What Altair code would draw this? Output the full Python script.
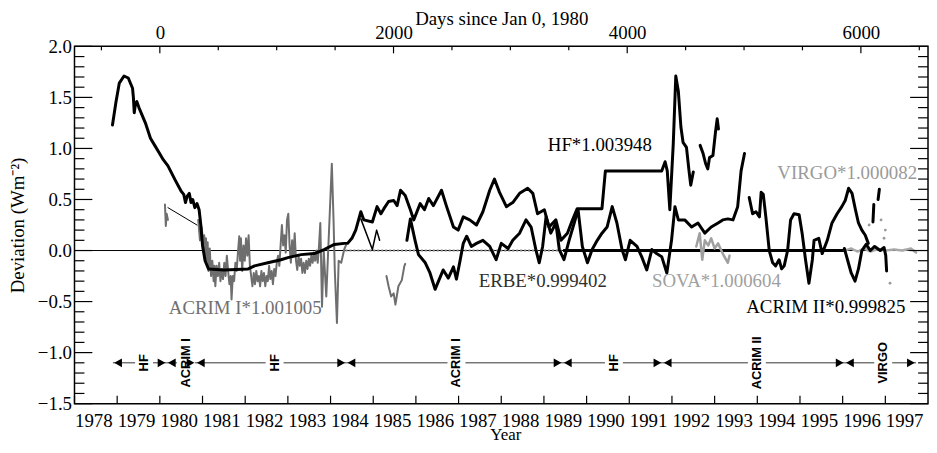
import altair as alt
import pandas as pd

W, H = 860, 360
SERIF = "Liberation Serif"
SANS = "Liberation Sans"

# ---------------- HF*1.003948 (thick black) ----------------
hf_a_year = [1978.89, 1978.97, 1979.05, 1979.16, 1979.26, 1979.36, 1979.38, 1979.40, 1979.43, 1979.46,
             1979.51, 1979.67, 1979.78, 1979.88, 1979.98, 1980.08, 1980.19, 1980.36, 1980.50, 1980.56,
             1980.60, 1980.64, 1980.69, 1980.73, 1980.77, 1980.82, 1980.87, 1980.92, 1980.96, 1981.00,
             1981.06, 1981.14, 1981.50, 1982.07, 1982.22, 1982.53, 1982.84, 1983.00, 1983.31, 1983.62,
             1983.85, 1984.09, 1984.32, 1984.40, 1984.50, 1984.59, 1984.71, 1984.78, 1984.98, 1985.09,
             1985.18, 1985.25, 1985.36, 1985.48, 1985.56, 1985.64, 1985.75, 1985.87, 1985.95, 1986.10,
             1986.20, 1986.30, 1986.41, 1986.60, 1986.72, 1986.88, 1986.99, 1987.11, 1987.26, 1987.42,
             1987.57, 1987.73, 1987.84, 1987.96, 1988.12, 1988.27, 1988.43, 1988.62, 1988.74, 1988.85,
             1989.01, 1989.12, 1989.28, 1989.40, 1989.55, 1989.67, 1989.78, 1990.36, 1990.44, 1991.76,
             1991.84, 1991.89, 1991.95, 1992.03, 1992.09, 1992.15, 1992.21, 1992.26, 1992.34, 1992.40,
             1992.44, 1992.50]
hf_a_dev = [1.23, 1.45, 1.64, 1.71, 1.69, 1.59, 1.50, 1.35, 1.44, 1.46,
            1.40, 1.24, 1.10, 1.03, 0.96, 0.89, 0.83, 0.69, 0.58, 0.55,
            0.47, 0.53, 0.56, 0.47, 0.50, 0.42, 0.46, 0.40, 0.25, 0.05,
            -0.10, -0.18, -0.19, -0.18, -0.15, -0.12, -0.09, -0.07, -0.04, -0.03,
            0.01, 0.06, 0.07, 0.07, 0.12, 0.20, 0.38, 0.30, 0.28, 0.43,
            0.36, 0.41, 0.48, 0.49, 0.44, 0.59, 0.54, 0.40, 0.30, 0.46,
            0.40, 0.51, 0.44, 0.59, 0.43, 0.23, 0.20, 0.33, 0.30, 0.25,
            0.38, 0.59, 0.70, 0.57, 0.43, 0.47, 0.56, 0.61, 0.56, 0.36,
            0.40, 0.23, 0.30, 0.10, 0.17, 0.30, 0.41, 0.41, 0.78, 0.78,
            0.87, 0.78, 0.40, 1.04, 1.71, 1.56, 1.21, 1.06, 1.01, 0.78,
            0.64, 0.77]
hf_b_year = [1992.66, 1992.73, 1992.79, 1992.84, 1992.88, 1992.96, 1993.02, 1993.06, 1993.09]
hf_b_dev = [1.03, 0.95, 0.85, 0.80, 0.91, 0.93, 1.16, 1.29, 1.19]

# ---------------- ERBE*0.999402 (black) ----------------
erbe_a_year = [1984.71, 1984.98, 1985.08, 1985.15]
erbe_a_dev = [0.31, 0.01, 0.20, 0.10]
erbe_b_year = [1985.79, 1985.87, 1985.98, 1986.06, 1986.22, 1986.33, 1986.45, 1986.53, 1986.64, 1986.76,
               1986.88, 1986.95, 1987.03, 1987.11, 1987.19, 1987.30, 1987.42, 1987.57, 1987.73, 1987.88,
               1988.00, 1988.16, 1988.27, 1988.43, 1988.58, 1988.70, 1988.81, 1988.89, 1988.97, 1989.05,
               1989.16, 1989.28, 1989.36, 1989.47, 1989.59, 1989.71, 1989.80, 1989.90, 1990.02, 1990.13,
               1990.25, 1990.36, 1990.48, 1990.60, 1990.71, 1990.83, 1990.91, 1991.02, 1991.18, 1991.29,
               1991.41, 1991.53, 1991.64, 1991.76, 1991.88, 1991.99, 1992.07, 1992.15, 1992.30, 1992.46,
               1992.61, 1992.77, 1992.92, 1993.08, 1993.19, 1993.31, 1993.43, 1993.54, 1993.62, 1993.70]
erbe_b_dev = [0.10, 0.31, 0.10, -0.04, -0.12, -0.22, -0.38, -0.30, -0.19, -0.27,
              -0.16, -0.28, -0.11, 0.07, 0.14, 0.04, 0.07, 0.10, 0.04, -0.09,
              0.07, 0.02, 0.10, 0.17, 0.30, 0.23, 0.01, -0.12, 0.04, 0.33,
              0.17, 0.27, 0.01, -0.09, 0.10, 0.27, 0.40, 0.04, -0.12, 0.01,
              0.10, 0.17, 0.23, 0.43, 0.27, 0.01, -0.09, 0.10, 0.04, -0.06,
              -0.19, 0.01, -0.03, -0.06, -0.22, 0.10, 0.43, 0.30, 0.30, 0.23,
              0.27, 0.17, 0.23, 0.27, 0.30, 0.31, 0.30, 0.43, 0.78, 0.95]
erbe_c_year = [1993.81, 1993.89, 1993.97, 1994.05, 1994.09, 1994.14, 1994.20, 1994.28, 1994.36, 1994.43,
               1994.51, 1994.57, 1994.63, 1994.71, 1994.78, 1994.86, 1994.98, 1995.05, 1995.13, 1995.21,
               1995.29, 1995.33, 1995.44, 1995.52, 1995.64, 1995.75, 1995.87, 1995.98, 1996.06, 1996.14,
               1996.22, 1996.30, 1996.37, 1996.45, 1996.53, 1996.60]
erbe_c_dev = [0.52, 0.36, 0.38, 0.33, 0.57, 0.55, 0.33, 0.00, -0.12, -0.15,
              -0.09, -0.18, -0.15, 0.00, 0.30, 0.36, 0.35, 0.17, -0.09, -0.32,
              -0.09, 0.10, 0.12, -0.03, 0.10, 0.27, 0.36, 0.43, 0.49, 0.61,
              0.56, 0.40, 0.27, 0.20, 0.15, 0.07]
erbe_d_year = [1996.04, 1996.12, 1996.20, 1996.29, 1996.37, 1996.45, 1996.55, 1996.65, 1996.75, 1996.88,
               1996.97, 1997.01, 1997.03]
erbe_d_dev = [0.02, -0.10, -0.22, -0.30, -0.18, 0.00, 0.06, 0.00, 0.04, 0.00,
              0.03, -0.05, -0.20]
erbe_e_year = [1996.71, 1996.73]
erbe_e_dev = [0.28, 0.45]
erbe_f_year = [1996.83, 1996.86]
erbe_f_dev = [0.50, 0.60]

# ---------------- ACRIM I*1.001005 (grey) ----------------
acrim1_a_year = [1980.12, 1980.14, 1980.16, 1980.19]
acrim1_a_dev = [0.45, 0.24, 0.36, 0.30]
acrim1_gap_year = [1980.19, 1980.87]
acrim1_gap_dev = [0.42, 0.25]
acrim1_b_year = [1980.90, 1980.94, 1980.98, 1981.02, 1981.04, 1981.06, 1981.08, 1981.10, 1981.12, 1981.14,
                 1981.17, 1981.20, 1981.23, 1981.26, 1981.28, 1981.30, 1981.33, 1981.36, 1981.39, 1981.42,
                 1981.45, 1981.48, 1981.51, 1981.54, 1981.57, 1981.60, 1981.63, 1981.66, 1981.68, 1981.71,
                 1981.74, 1981.77, 1981.80, 1981.83, 1981.86, 1981.88, 1981.90, 1981.93, 1981.96, 1981.99,
                 1982.02, 1982.05, 1982.08, 1982.11, 1982.14, 1982.17, 1982.20, 1982.23, 1982.26, 1982.29,
                 1982.32, 1982.35, 1982.38, 1982.41, 1982.44, 1982.47, 1982.50, 1982.53, 1982.56, 1982.59,
                 1982.62, 1982.65, 1982.68, 1982.71, 1982.74, 1982.77, 1982.80, 1982.83, 1982.86, 1982.89,
                 1982.92, 1982.95, 1982.98, 1983.01, 1983.04, 1983.07, 1983.10, 1983.13, 1983.16, 1983.19,
                 1983.22, 1983.25, 1983.28, 1983.31, 1983.34, 1983.37, 1983.40, 1983.43, 1983.46, 1983.49,
                 1983.52, 1983.55, 1983.58, 1983.61, 1983.64, 1983.67, 1983.70, 1983.73, 1983.76, 1983.80,
                 1983.84, 1983.90, 1983.95, 1984.03, 1984.07, 1984.10, 1984.15, 1984.19, 1984.25, 1984.32,
                 1984.36]
acrim1_b_dev = [0.30, 0.10, 0.23, 0.05, 0.15, -0.05, 0.12, -0.10, 0.08, -0.20,
                0.02, -0.25, -0.10, -0.30, -0.15, -0.35, -0.15, -0.25, -0.12, -0.30,
                -0.18, -0.28, -0.12, -0.25, -0.05, -0.20, -0.33, -0.25, -0.48, -0.25,
                -0.30, -0.12, -0.20, -0.02, 0.14, -0.10, 0.12, -0.20, 0.05, -0.10,
                0.12, -0.05, 0.15, -0.15, -0.25, -0.35, -0.22, -0.33, -0.20, -0.30,
                -0.25, -0.35, -0.20, -0.30, -0.22, -0.35, -0.25, -0.30, -0.15, -0.28,
                -0.20, -0.33, -0.18, -0.25, -0.12, -0.05, -0.15, 0.05, 0.25, 0.05,
                0.15, -0.02, 0.30, 0.36, 0.05, -0.12, 0.10, -0.05, 0.17, -0.10,
                -0.19, -0.05, -0.15, -0.08, -0.22, -0.12, -0.22, -0.10, -0.18, -0.08,
                -0.15, -0.05, -0.12, -0.02, -0.10, 0.00, -0.12, 0.05, 0.27, -0.55,
                0.00, -0.45, 0.05, 0.85, 0.30, -0.20, -0.71, -0.10, -0.12, 0.01,
                0.05]
acrim1_c_year = [1985.31, 1985.36, 1985.42, 1985.48, 1985.52, 1985.59, 1985.67, 1985.73, 1985.75]
acrim1_c_dev = [-0.25, -0.35, -0.45, -0.42, -0.53, -0.35, -0.29, -0.15, -0.13]

# ---------------- SOVA*1.000604 (light grey) ----------------
sova_year = [1992.57, 1992.65, 1992.71, 1992.77, 1992.85, 1992.92, 1993.00, 1993.08, 1993.19, 1993.31, 1993.35]
sova_dev = [0.04, 0.17, -0.09, 0.10, 0.05, 0.12, 0.02, 0.07, -0.03, -0.12, -0.05]

# ---------------- VIRGO*1.000082 (light grey) ----------------
virgo_year = [1996.05, 1996.20, 1996.35, 1996.50, 1996.65, 1996.80, 1997.00, 1997.20, 1997.40, 1997.60, 1997.72]
virgo_dev = [0.00, 0.02, -0.01, 0.02, -0.01, 0.01, 0.00, 0.01, 0.00, 0.02, -0.02]
virgo_pt_year = [1996.62, 1996.72, 1996.84, 1996.90, 1996.97, 1997.00, 1997.11]
virgo_pt_dev = [0.25, 0.40, 0.53, 0.30, 0.12, 0.20, -0.32]

# ---------------- reference (zero) segments ----------------
ref_dotted = [1984.35, 1989.45]
ref_thick = [1989.45, 1996.05]

# ---------------- annotations ----------------
ann_text = ["HF*1.003948", "VIRGO*1.000082", "ACRIM I*1.001005", "ERBE*0.999402", "SOVA*1.000604",
            "ACRIM II*0.999825"]
ann_year = [1989.09, 1994.47, 1980.21, 1987.47, 1991.53, 1993.74]
ann_dev = [1.03, 0.755, -0.56, -0.30, -0.30, -0.55]
ann_color = ["#000000", "#9a9a9a", "#707070", "#303030", "#a0a0a0", "#000000"]

# ---------------- instrument timeline ----------------
tl_bounds = [1978.9, 1980.16, 1980.84, 1984.37, 1989.44, 1991.78, 1996.05, 1997.72]
tl_labels = ["HF", "ACRIM I", "HF", "ACRIM I", "HF", "ACRIM II", "VIRGO"]
tl_label_year = [1979.63, 1980.61, 1982.69, 1986.95, 1990.64, 1993.99, 1996.95]
tl_dev = -1.1

# ---------------- axis ticks ----------------
y_major = [-1.5, -1.0, -0.5, 0.0, 0.5, 1.0, 1.5, 2.0]
y_minor = [v / 10 for v in range(-15, 21) if v % 5 != 0]
year_ticks = list(range(1978, 1998))
day_major = [0, 2000, 4000, 6000]
day_minor = [-500, 500, 1000, 1500, 2500, 3000, 3500, 4500, 5000, 5500, 6500]

# =====================================================================
xs = alt.Scale(domain=[1978, 1998], nice=False, zero=False)
ys = alt.Scale(domain=[-1.5, 2.0], nice=False, zero=False)
X = alt.X("year:Q", scale=xs, axis=None)
Y = alt.Y("dev:Q", scale=ys, axis=None)


def frame(pieces):
    rows = []
    for name, yrs, devs in pieces:
        for a, b in zip(yrs, devs):
            rows.append({"year": a, "dev": b, "seg": name})
    return pd.DataFrame(rows)


def lines(pieces, **mk):
    return alt.Chart(frame(pieces)).mark_line(strokeJoin="round", strokeCap="round", **mk).encode(
        x=X, y=Y, detail="seg:N")


zero_line = alt.Chart(pd.DataFrame({"dev": [0.0]})).mark_rule(color="black", strokeWidth=1).encode(y=Y)

ref_df = pd.DataFrame({"year": [ref_dotted[0], ref_thick[0]], "year2": [ref_dotted[1], ref_thick[1]],
                       "dev": [0.0, 0.0], "kind": ["dot", "thick"]})
ref_dot = alt.Chart(ref_df[ref_df.kind == "dot"]).mark_rule(
    color="#888888", strokeWidth=2, strokeDash=[2, 2]).encode(x=X, x2="year2:Q", y=Y)
ref_thk = alt.Chart(ref_df[ref_df.kind == "thick"]).mark_rule(
    color="black", strokeWidth=3).encode(x=X, x2="year2:Q", y=Y)

virgo_line = lines([("v", virgo_year, virgo_dev)], color="#a8a8a8", strokeWidth=2.5, strokeDash=[3, 1])
virgo_pts = alt.Chart(frame([("vp", virgo_pt_year, virgo_pt_dev)])).mark_circle(
    color="#9a9a9a", size=8, opacity=1).encode(x=X, y=Y)
sova_line = lines([("s", sova_year, sova_dev)], color="#a0a0a0", strokeWidth=2.5)
acrim1_lines = lines([("a", acrim1_a_year, acrim1_a_dev), ("b", acrim1_b_year, acrim1_b_dev),
                      ("c", acrim1_c_year, acrim1_c_dev)], color="#6e6e6e", strokeWidth=2)
acrim1_thin = lines([("g", acrim1_gap_year, acrim1_gap_dev)], color="black", strokeWidth=1)
erbe_thin = lines([("a", erbe_a_year, erbe_a_dev)], color="black", strokeWidth=1.5)
erbe_lines = lines([("b", erbe_b_year, erbe_b_dev), ("c", erbe_c_year, erbe_c_dev),
                    ("d", erbe_d_year, erbe_d_dev), ("e", erbe_e_year, erbe_e_dev),
                    ("f", erbe_f_year, erbe_f_dev)], color="black", strokeWidth=3)
hf_lines = lines([("a", hf_a_year, hf_a_dev), ("b", hf_b_year, hf_b_dev)], color="black", strokeWidth=3)

ann_df = pd.DataFrame({"text": ann_text, "year": ann_year, "dev": ann_dev, "color": ann_color})
annotations = alt.Chart(ann_df).mark_text(align="left", baseline="middle", font=SERIF, fontSize=19).encode(
    x=X, y=Y, text="text:N", color=alt.Color("color:N", scale=None))

# timeline segments with gaps around the labels
gap = 0.21
seg_rows = []
for i, lab_x in enumerate(tl_label_year):
    a, b = tl_bounds[i], tl_bounds[i + 1]
    if lab_x - gap > a:
        seg_rows.append({"year": a, "year2": lab_x - gap, "dev": tl_dev})
    if lab_x + gap < b:
        seg_rows.append({"year": lab_x + gap, "year2": b, "dev": tl_dev})
tl_lines = alt.Chart(pd.DataFrame(seg_rows)).mark_rule(color="#333333", strokeWidth=1).encode(
    x=X, x2="year2:Q", y=Y)
tl_left = alt.Chart(pd.DataFrame({"year": tl_bounds[:-1], "dev": [tl_dev] * (len(tl_bounds) - 1)})).mark_point(
    shape="triangle-left", filled=True, color="black", size=80, opacity=1, xOffset=5.2).encode(x=X, y=Y)
tl_right = alt.Chart(pd.DataFrame({"year": tl_bounds[1:], "dev": [tl_dev] * (len(tl_bounds) - 1)})).mark_point(
    shape="triangle-right", filled=True, color="black", size=80, opacity=1, xOffset=-5.2).encode(x=X, y=Y)
tl_text = alt.Chart(pd.DataFrame({"text": tl_labels, "year": tl_label_year,
                                  "dev": [tl_dev] * len(tl_labels)})).mark_text(
    angle=270, align="center", baseline="middle", font=SANS, fontWeight="bold", fontSize=13,
    color="black").encode(x=X, y=Y, text="text:N")

# ticks (drawn inward)
ymaj_df = pd.DataFrame({"dev": y_major})
ymin_df = pd.DataFrame({"dev": y_minor})
left_major = alt.Chart(ymaj_df).mark_rule(color="black", strokeWidth=1.2).encode(
    y=alt.Y("dev:Q", scale=ys, axis=alt.Axis(
        orient="left", values=y_major, format=".1f", ticks=False, domain=False, grid=False,
        labelPadding=3, title="Deviation (Wm\u207b\u00b2)", titlePadding=10)),
    x=alt.value(0), x2=alt.value(18))
left_minor = alt.Chart(ymin_df).mark_rule(color="black", strokeWidth=1.2).encode(
    y=Y, x=alt.value(0), x2=alt.value(10))
right_major = alt.Chart(ymaj_df).mark_rule(color="black", strokeWidth=1.2).encode(
    y=Y, x=alt.value(W - 18), x2=alt.value(W))
right_minor = alt.Chart(ymin_df).mark_rule(color="black", strokeWidth=1.2).encode(
    y=Y, x=alt.value(W - 10), x2=alt.value(W))

bottom_ticks = alt.Chart(pd.DataFrame({"year": year_ticks})).mark_rule(color="black", strokeWidth=1.2).encode(
    x=alt.X("year:Q", scale=xs, axis=alt.Axis(
        orient="bottom", values=year_ticks, format="d", ticks=False, domain=False, grid=False,
        labelAlign="left", labelPadding=8, labelOverlap=False, labelFlush=False,
        title="Year", titleFontSize=17, titlePadding=-4, titleX=434)),
    y=alt.value(H), y2=alt.value(H - 8))

day_major_year = [1980 + d / 365.25 for d in day_major]
day_minor_year = [1980 + d / 365.25 for d in day_minor]
top_major = alt.Chart(pd.DataFrame({"year": day_major_year})).mark_rule(color="black", strokeWidth=1.2).encode(
    x=alt.X("year:Q", scale=xs, axis=alt.Axis(
        orient="top", values=day_major_year, labelExpr="round((datum.value - 1980) * 365.25)",
        ticks=False, domain=False, grid=False, labelPadding=4, labelOverlap=False, labelFlush=False,
        title="Days since Jan 0, 1980", titlePadding=-5)),
    y=alt.value(0), y2=alt.value(7))
top_minor = alt.Chart(pd.DataFrame({"year": day_minor_year})).mark_rule(color="black", strokeWidth=1.2).encode(
    x=X, y=alt.value(0), y2=alt.value(4))

chart = alt.layer(
    zero_line, ref_dot, ref_thk, virgo_line, virgo_pts, sova_line, acrim1_lines, acrim1_thin,
    erbe_thin, erbe_lines, hf_lines, annotations, tl_lines, tl_left, tl_right, tl_text,
    left_major, left_minor, right_major, right_minor, bottom_ticks, top_major, top_minor,
).resolve_axis(x="independent", y="independent").properties(
    width=W, height=H,
    padding={"left": 67, "top": 37, "right": 1, "bottom": 39},
    autosize=alt.AutoSizeParams(type="none"),
).configure_view(stroke="black", strokeWidth=1.5).configure_axis(
    labelFont=SERIF, titleFont=SERIF, labelFontSize=19, titleFontSize=19,
    labelColor="black", titleColor="black", titleFontWeight="normal",
)

chart.save("out.html", embed_options={"renderer": "svg", "actions": False})
